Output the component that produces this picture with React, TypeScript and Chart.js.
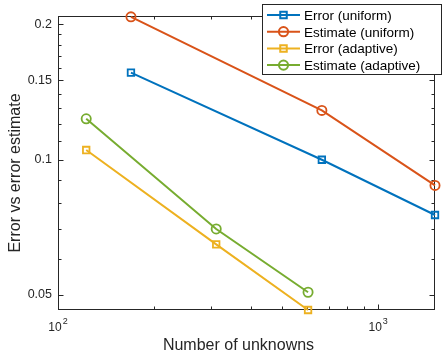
import React, { useEffect, useRef } from "react";
import { Chart, registerables } from "chart.js";

Chart.register(...registerables);

// Number of unknowns per refinement step
const unknownsUniform = [169, 667, 1505];
const unknownsAdaptive = [122.5, 312, 604];

// True error and a posteriori estimate
const errorUniform = [0.156, 0.0999, 0.0753];
const estimateUniform = [0.2076, 0.1286, 0.0876];
const errorAdaptive = [0.105, 0.0648, 0.0463];
const estimateAdaptive = [0.1232, 0.0701, 0.0507];

const seriesLabels = [
  "Error (uniform)",
  "Estimate (uniform)",
  "Error (adaptive)",
  "Estimate (adaptive)",
];

// Axis limits and tick positions (log axes)
const xLimits = [100, 1505];
const yLimits = [0.0463, 0.2085];
const xTicks = [100, 200, 300, 400, 500, 600, 700, 800, 900, 1000];
const xMajorTicks = [100, 1000];
const xMajorExponents = ["2", "3"];
const yTicks = [
  0.05, 0.06, 0.07, 0.08, 0.09, 0.1, 0.11, 0.12, 0.13, 0.14, 0.15, 0.16, 0.17,
  0.18, 0.19, 0.2,
];
const yMajorTicks = [0.05, 0.1, 0.15, 0.2];
const yTickLabels = ["0.05", "0.1", "0.15", "0.2"];

const xTitle = "Number of unknowns";
const yTitle = "Error vs error estimate";

const FONT = '"Liberation Sans", Arial, Helvetica, sans-serif';
const AXIS_COLOR = "#262626";
const BLUE = "#0072BD";
const ORANGE = "#D95319";
const YELLOW = "#EDB120";
const GREEN = "#77AC30";

const near = (a: number, b: number) => Math.abs(a - b) < 1e-9;
const majorIndex = (list: number[], v: number) => list.findIndex((m) => near(m, v));

function drawMarker(
  ctx: CanvasRenderingContext2D,
  style: string,
  x: number,
  y: number,
  r: number
) {
  ctx.beginPath();
  if (style === "rect") {
    const h = r * Math.SQRT1_2;
    ctx.rect(x - h, y - h, 2 * h, 2 * h);
  } else {
    ctx.arc(x, y, r, 0, Math.PI * 2);
  }
  ctx.stroke();
}

// Box, inward ticks, superscript decade labels and axis titles
const axesFrame = {
  id: "axesFrame",
  beforeDatasetsDraw(chart: any) {
    const { ctx, chartArea, scales } = chart;
    const xs = scales.x;
    const ys = scales.y;
    const L = Math.floor(chartArea.left) + 0.5;
    const R = Math.floor(chartArea.right) - 0.5;
    const T = Math.floor(chartArea.top) + 0.5;
    const B = Math.floor(chartArea.bottom) - 0.5;
    ctx.save();
    ctx.strokeStyle = AXIS_COLOR;
    ctx.lineWidth = 1;
    ctx.strokeRect(L, T, R - L, B - T);

    ctx.beginPath();
    for (const v of xTicks) {
      const px = Math.round(xs.getPixelForValue(v)) + 0.5;
      const len = majorIndex(xMajorTicks, v) >= 0 ? 5 : 3;
      ctx.moveTo(px, B);
      ctx.lineTo(px, B - len);
      ctx.moveTo(px, T);
      ctx.lineTo(px, T + len);
    }
    for (const v of yTicks) {
      const py = Math.round(ys.getPixelForValue(v)) + 0.5;
      const len = majorIndex(yMajorTicks, v) >= 0 ? 5 : 3;
      ctx.moveTo(L, py);
      ctx.lineTo(L + len, py);
      ctx.moveTo(R, py);
      ctx.lineTo(R - len, py);
    }
    ctx.stroke();

    // decade labels 10^n
    ctx.fillStyle = AXIS_COLOR;
    ctx.textBaseline = "alphabetic";
    ctx.textAlign = "left";
    xMajorTicks.forEach((v, i) => {
      const px = xs.getPixelForValue(v);
      ctx.font = `12px ${FONT}`;
      const wBase = ctx.measureText("10").width;
      ctx.font = `9px ${FONT}`;
      const wExp = ctx.measureText(xMajorExponents[i]).width;
      const start = px - (wBase + 1 + wExp) / 2;
      ctx.font = `12px ${FONT}`;
      ctx.fillText("10", start, B + 21);
      ctx.font = `9px ${FONT}`;
      ctx.fillText(xMajorExponents[i], start + wBase + 1, B + 14.5);
    });

    // axis titles
    ctx.font = `16px ${FONT}`;
    ctx.textAlign = "center";
    ctx.fillText(xTitle, (L + R) / 2 - 8, B + 40);
    ctx.save();
    ctx.translate(20, (T + B) / 2 + 10);
    ctx.rotate(-Math.PI / 2);
    ctx.fillText(yTitle, 0, 0);
    ctx.restore();
    ctx.restore();
  },
  afterDraw(chart: any) {
    // legend box in the upper right corner
    const { ctx, chartArea } = chart;
    const boxL = 262.5;
    const boxT = 4.5;
    const boxR = Math.floor(chartArea.right) + 6.5;
    const boxB = 74.5;
    ctx.save();
    ctx.fillStyle = "#ffffff";
    ctx.fillRect(boxL, boxT, boxR - boxL, boxB - boxT);
    ctx.strokeStyle = AXIS_COLOR;
    ctx.lineWidth = 1;
    ctx.strokeRect(boxL, boxT, boxR - boxL, boxB - boxT);
    ctx.font = `13.5px ${FONT}`;
    ctx.textAlign = "left";
    ctx.textBaseline = "alphabetic";
    chart.data.datasets.forEach((ds: any, i: number) => {
      const cy = 15 + i * 16.7;
      ctx.strokeStyle = ds.borderColor;
      ctx.lineWidth = 2;
      ctx.beginPath();
      ctx.moveTo(267, cy);
      ctx.lineTo(300, cy);
      ctx.stroke();
      drawMarker(ctx, ds.pointStyle, 283.5, cy, ds.pointRadius);
      ctx.fillStyle = "#000000";
      ctx.fillText(ds.label, 304, cy + 4.8);
    });
    ctx.restore();
  },
};

function series(label: string, xs: number[], ys: number[], color: string, style: string) {
  return {
    label,
    data: xs.map((x, i) => ({ x, y: ys[i] })),
    borderColor: color,
    backgroundColor: "rgba(0,0,0,0)",
    borderWidth: 2,
    pointStyle: style,
    pointRadius: 4.6,
    pointBorderWidth: 1.8,
    pointBackgroundColor: "rgba(0,0,0,0)",
    pointBorderColor: color,
    tension: 0,
    clip: false,
  };
}

export default function App() {
  const canvasRef = useRef<HTMLCanvasElement | null>(null);

  useEffect(() => {
    document.body.style.margin = "0";
    const canvas = canvasRef.current;
    if (!canvas) return;
    const chart = new Chart(canvas, {
      type: "line",
      data: {
        datasets: [
          series(seriesLabels[0], unknownsUniform, errorUniform, BLUE, "rect"),
          series(seriesLabels[1], unknownsUniform, estimateUniform, ORANGE, "circle"),
          series(seriesLabels[2], unknownsAdaptive, errorAdaptive, YELLOW, "rect"),
          series(seriesLabels[3], unknownsAdaptive, estimateAdaptive, GREEN, "circle"),
        ] as any,
      },
      options: {
        animation: false,
        responsive: true,
        maintainAspectRatio: false,
        layout: { padding: { top: 16, right: 8, bottom: 0, left: 0 } },
        plugins: { legend: { display: false }, tooltip: { enabled: false } },
        scales: {
          x: {
            type: "logarithmic",
            min: xLimits[0],
            max: xLimits[1],
            bounds: "data",
            grid: { display: false, drawTicks: false },
            border: { display: false },
            ticks: { display: false },
            afterBuildTicks: (scale: any) => {
              scale.ticks = xTicks.map((value) => ({ value }));
            },
            afterFit: (scale: any) => {
              scale.height = 44;
            },
          },
          y: {
            type: "logarithmic",
            min: yLimits[0],
            max: yLimits[1],
            bounds: "data",
            grid: { display: false, drawTicks: false },
            border: { display: false },
            ticks: {
              autoSkip: false,
              padding: 6,
              color: AXIS_COLOR,
              font: { family: FONT, size: 12.5 },
              callback: (value: any) => {
                const i = majorIndex(yMajorTicks, Number(value));
                return i >= 0 ? yTickLabels[i] : "";
              },
            },
            afterBuildTicks: (scale: any) => {
              scale.ticks = yTicks.map((value) => ({ value }));
            },
            afterFit: (scale: any) => {
              scale.width = 58;
            },
          },
        },
      } as any,
      plugins: [axesFrame],
    });
    return () => chart.destroy();
  }, []);

  return (
    <div style={{ position: "absolute", left: 0, top: 0, width: 443, height: 354 }}>
      <canvas ref={canvasRef} />
    </div>
  );
}
